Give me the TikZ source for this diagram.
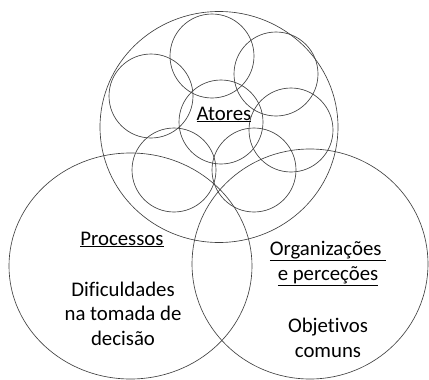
\documentclass[tikz,border=0pt]{standalone}
\usepackage{fontspec}
\setmainfont{Carlito}[Ligatures={NoCommon}]
\usetikzlibrary{positioning}

\begin{document}
\begin{tikzpicture}[x=1pt,y=-1pt,
    ring/.style={draw=black!75, line width=0.65pt},
    venntext/.style={font=\fontsize{20.8}{24.5}\selectfont, text=black, align=center, inner sep=0pt, anchor=base}]
    \useasboundingbox (0,0) rectangle (429,380);
    % Three large areas
    \draw[ring] (219,127) ellipse [x radius=119pt, y radius=115.5pt]; % Atores
    \draw[ring] (130.5,266) ellipse [x radius=121.5pt, y radius=113pt]; % Processos
    \draw[ring] (310,264) ellipse [x radius=118pt, y radius=115pt]; % Organizacoes
    % Small actor circles
    \foreach \cx/\cy in {212/56, 276/74, 151/96, 221/122, 291/130, 174/170, 254/170}
        \draw[ring] (\cx,\cy) circle [radius=42pt];
    % Labels (base = last line)
    \node[venntext] (atores) at (224,120) {\underline{Atores}};
    \node[venntext] (processos) at (122,245) {\underline{Processos}};
    \node[venntext] (dificuldades) at (123,345) {Dificuldades\\na tomada de\\decisão};
    \node[venntext] (organizacoes) at (328,280) {\underline{Organizações\ }\\\underline{e perceções}};
    \node[venntext] (objetivos) at (328,357) {Objetivos\\comuns};
\end{tikzpicture}
\end{document}
